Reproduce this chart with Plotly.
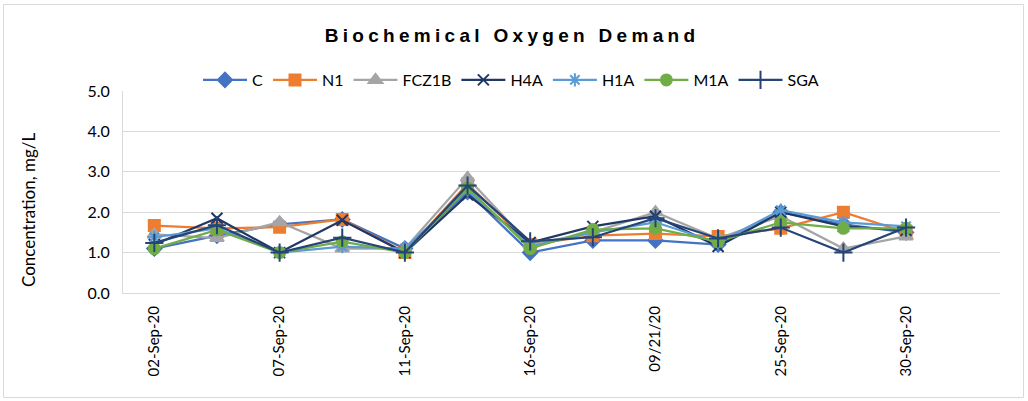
import plotly.graph_objects as go

dates = ["02-Sep-20", "04-Sep-20", "07-Sep-20", "09-Sep-20", "11-Sep-20", "14-Sep-20",
         "16-Sep-20", "18-Sep-20", "09/21/20", "23-Sep-20", "25-Sep-20", "28-Sep-20", "30-Sep-20"]

C = [1.1, 1.42, 1.7, 1.82, 1.1, 2.5, 1.0, 1.3, 1.3, 1.2, 2.0, 1.7, 1.5]
N1 = [1.67, 1.6, 1.63, 1.82, 1.0, 2.7, 1.2, 1.42, 1.47, 1.4, 1.6, 2.0, 1.5]
FCZ1B = [1.45, 1.36, 1.75, 1.1, 1.1, 2.85, 1.2, 1.5, 2.0, 1.35, 1.9, 1.1, 1.4]
H4A = [1.2, 1.85, 1.0, 1.8, 1.0, 2.43, 1.25, 1.65, 1.9, 1.15, 2.0, 1.65, 1.55]
H1A = [1.38, 1.6, 1.0, 1.15, 1.1, 2.55, 1.15, 1.5, 1.75, 1.25, 2.05, 1.75, 1.65]
M1A = [1.1, 1.56, 1.0, 1.27, 1.0, 2.6, 1.1, 1.57, 1.6, 1.27, 1.75, 1.6, 1.6]
SGA = [1.24, 1.68, 1.0, 1.37, 1.0, 2.66, 1.28, 1.38, 1.85, 1.35, 1.62, 1.0, 1.62]

series = [
    ("C", C, "#4472C4", "diamond", 11),
    ("N1", N1, "#ED7D31", "square", 11),
    ("FCZ1B", FCZ1B, "#A5A5A5", "triangle-up", 12),
    ("H4A", H4A, "#203864", "x-thin", 11),
    ("H1A", H1A, "#5B9BD5", "asterisk", 11),
    ("M1A", M1A, "#70AD47", "circle", 11),
    ("SGA", SGA, "#264478", "cross-thin", 13),
]

fig = go.Figure()
for name, vals, col, sym, sz in series:
    fig.add_trace(go.Scatter(
        x=dates, y=vals, name=name, mode="lines+markers",
        line=dict(color=col, width=2.25),
        marker=dict(symbol=sym, size=sz, color=col, line=dict(color=col, width=2)),
    ))

W, H = 1028, 401
L, T = 123, 91
R = W - 1000
B = H - 293
pw, ph = W - L - R, H - T - B


def px_x(x):
    return (x - L) / pw


def px_y(y):
    return (H - B - y) / ph


fnt = "Lato, Open Sans"

fig.update_layout(
    width=W, height=H,
    margin=dict(l=L, r=R, t=T, b=B),
    paper_bgcolor="white", plot_bgcolor="white",
    title=dict(text="<b>Biochemical Oxygen Demand</b>", x=512 / W, xref="container",
               xanchor="center", y=1 - 35 / H, yref="container", yanchor="middle",
               font=dict(family="Liberation Sans, Arial", size=19, color="#000000")),
    legend=dict(orientation="h", x=px_x(511), xanchor="center", y=px_y(80), yanchor="middle",
                font=dict(family=fnt, size=16, color="#000000"),
                bgcolor="rgba(0,0,0,0)", itemwidth=44, tracegroupgap=0),
    showlegend=True,
    xaxis=dict(type="category", range=[-0.5, 13.5], tickmode="array",
               tickvals=dates[::2], ticktext=dates[::2], tickangle=-90,
               showgrid=False, showline=True, linecolor="#D9D9D9", linewidth=1,
               ticks="", ticklabelstandoff=6,
               tickfont=dict(family=fnt, size=15, color="#000000")),
    yaxis=dict(range=[0, 5], dtick=1, tickformat=".1f", showgrid=True, gridcolor="#D9D9D9",
               gridwidth=1, showline=True, linecolor="#D9D9D9", zeroline=False, ticks="",
               ticklabelstandoff=9,
               tickfont=dict(family=fnt, size=16, color="#000000")),
    annotations=[dict(text="Concentration, mg/L", xref="paper", yref="paper",
                      x=px_x(28), y=px_y(210), textangle=-90, showarrow=False,
                      xanchor="center", yanchor="middle",
                      font=dict(family=fnt, size=17, color="#000000"))],
    shapes=[dict(type="rect", xref="paper", yref="paper",
                 x0=px_x(3.5), x1=px_x(1023.5), y0=px_y(397.5), y1=px_y(4.5),
                 line=dict(color="#D9D9D9", width=1), fillcolor="rgba(0,0,0,0)", layer="below")],
)

fig.write_html(
    "out.html",
    config={"displayModeBar": False},
    post_script=(
        "document.body.style.margin='0';"
        "document.querySelectorAll('.gtitle').forEach(function(e){e.style.letterSpacing='4.3px';});"
    ),
)
